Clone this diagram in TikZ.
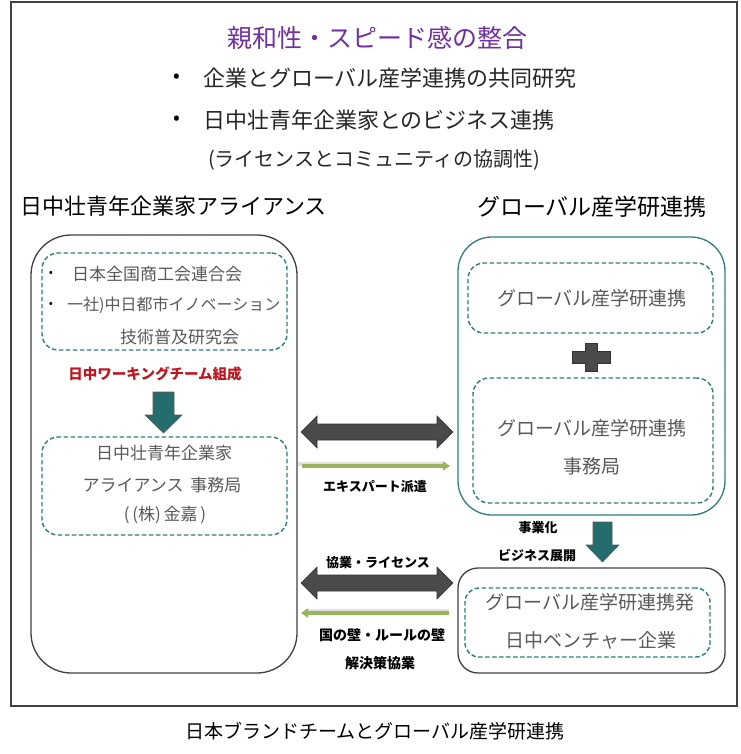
\documentclass[tikz,border=0pt]{standalone}
\usepackage{fontspec}
\setmainfont{Noto Sans CJK JP}
\usetikzlibrary{arrows.meta}
\definecolor{tealdash}{HTML}{2F7C7C}
\definecolor{tealfill}{HTML}{256C6C}
\definecolor{darkarrow}{HTML}{4A4A4A}
\definecolor{greenarrow}{HTML}{98B55E}
\definecolor{titlepurple}{HTML}{7030A0}
\definecolor{labelred}{HTML}{C0141E}
\definecolor{graytext}{HTML}{595959}
\begin{document}
\begin{tikzpicture}[x=1pt,y=-1pt,
  bigbox/.style={draw=#1, line width=1.3pt, inner sep=0pt},
  dashbox/.style={draw=tealdash, line width=1.4pt, dash pattern=on 4.5pt off 2.5pt, rounded corners=16pt, inner sep=0pt},
  txt/.style={inner sep=0pt, anchor=center},
  intxt/.style={txt, text=graytext, font=\fontsize{18}{18}\selectfont},
  smlab/.style={txt, font=\fontsize{13}{13}\selectfont\bfseries},
  blockdark/.style={fill=darkarrow, draw=darkarrow!70!black, line width=0.6pt, line join=miter},
  blockteal/.style={fill=tealfill, draw=graytext, line width=0.6pt, line join=miter},
  thinarrow/.style={draw=greenarrow, line width=3.5pt, -{Triangle[length=7pt,width=9pt]}},
  shadowline/.style={draw=black!12, line width=3.5pt}
]
\useasboundingbox (0,0) rectangle (740,754);
% outer frame
\node[draw=black!75, line width=1.2pt, minimum width=726pt, minimum height=704pt, inner sep=0pt] (frame) at (374,354) {};

% title and bullets
\node[txt, text=titlepurple, font=\fontsize{25}{25}\selectfont] (title) at (377,38) {親和性・スピード感の整合};
\node[txt, font=\fontsize{20}{20}\selectfont] (b1dot) at (177,78) {•};
\node[txt, anchor=west, text=black!85, font=\fontsize{22}{22}\selectfont] (b1) at (203,78) {企業とグローバル産学連携の共同研究};
\node[txt, font=\fontsize{20}{20}\selectfont] (b2dot) at (177,120) {•};
\node[txt, anchor=west, text=black!85, font=\fontsize{22}{22}\selectfont] (b2) at (203,120) {日中壮青年企業家とのビジネス連携};
\node[txt, text=black!85, font=\fontsize{20}{20}\selectfont] (b3) at (374,160) {(ライセンスとコミュニティの協調性)};

% headings
\node[txt, anchor=west, font=\fontsize{22}{22}\selectfont] (hl) at (20,206) {日中壮青年企業家アライアンス};
\node[txt, anchor=east, font=\fontsize{23}{23}\selectfont] (hr) at (707,207) {グローバル産学研連携};

% left big box
\node[bigbox=black!75, rounded corners=40pt, minimum width=266pt, minimum height=438pt] (lbox) at (164,454) {};
\node[dashbox, minimum width=245pt, minimum height=97pt] (ld1) at (164.5,301.5) {};
\node[txt, text=black, font=\fontsize{12}{12}\selectfont] (ld1a) at (51,274) {•};
\node[txt, anchor=west, text=graytext, font=\fontsize{17}{17}\selectfont] (ld1b) at (72,274) {日本全国商工会連合会};
\node[txt, text=black, font=\fontsize{12}{12}\selectfont] (ld1c) at (51,305) {•};
\node[txt, anchor=west, text=graytext, font=\fontsize{16}{16}\selectfont] (ld1d) at (67,305) {一社)中日都市イノベーション};
\node[txt, anchor=west, text=graytext, font=\fontsize{17}{17}\selectfont] (ld1e) at (120,337) {技術普及研究会};
\node[txt, text=labelred, font=\fontsize{14.5}{14.5}\selectfont\bfseries] (red) at (155,374) {日中ワーキングチーム組成};
% teal down arrow (left)
\path[blockteal] (153,392) -- (174,392) -- (174,415) -- (182,415) -- (163.5,433) -- (145,415) -- (153,415) -- cycle;
\node[dashbox, minimum width=245pt, minimum height=98pt] (ld2) at (164.5,486) {};
\node[intxt, font=\fontsize{17}{17}\selectfont] (ld2a) at (164,453) {日中壮青年企業家};
\node[intxt, font=\fontsize{17}{17}\selectfont] (ld2b) at (162,485) {アライアンス\hspace{0.4em}事務局};
\node[intxt, font=\fontsize{17}{17}\selectfont] (ld2c) at (165,515) {(\,(株)\,金嘉\,)};

% right big teal box
\node[bigbox=tealdash, rounded corners=34pt, minimum width=267pt, minimum height=278pt] (rbox) at (591.5,376) {};
\node[dashbox, minimum width=245pt, minimum height=70pt] (rd1) at (590.5,298) {};
\node[intxt, font=\fontsize{19}{19}\selectfont] (rd1t) at (592,298) {グローバル産学研連携};
% plus
\path[blockdark] (585,343) -- (597,343) -- (597,351) -- (610,351) -- (610,363) -- (597,363) -- (597,371) -- (585,371) -- (585,363) -- (572,363) -- (572,351) -- (585,351) -- cycle;
\node[dashbox, minimum width=240pt, minimum height=125pt] (rd2) at (593,440.5) {};
\node[intxt, font=\fontsize{19}{19}\selectfont] (rd2a) at (592,428) {グローバル産学研連携};
\node[intxt, font=\fontsize{19}{19}\selectfont] (rd2b) at (592,466) {事務局};

% bottom right box
\node[bigbox=black!75, rounded corners=20pt, minimum width=267pt, minimum height=105pt] (vbox) at (591.5,620.5) {};
\node[dashbox, rounded corners=14pt, minimum width=245pt, minimum height=69pt] (vd) at (587.5,622.5) {};
\node[intxt, font=\fontsize{19}{19}\selectfont] (vda) at (590,602) {グローバル産学研連携発};
\node[intxt, font=\fontsize{19}{19}\selectfont] (vdb) at (591,640) {日中ベンチャー企業};

% teal down arrow (right)
\path[blockteal] (593,522) -- (612,522) -- (612,545) -- (619,545) -- (602.5,562) -- (586,545) -- (593,545) -- cycle;
\node[smlab] (jig) at (538,528) {事業化};
\node[smlab] (biz) at (537,555) {ビジネス展開};

% double arrow 1
\path[blockdark] (301,432) -- (317,416) -- (317,424) -- (437,424) -- (437,416) -- (453,432) -- (437,448) -- (437,440) -- (317,440) -- (317,448) -- cycle;
% green arrow 1
\coordinate (g1s) at (lbox.east |- 0,466);
\coordinate (g1e) at (450,466);
\draw[shadowline] ([yshift=2pt]g1s) -- ([yshift=2pt,xshift=-4pt]g1e);
\draw[thinarrow] ([xshift=4pt]g1s) -- (g1e);
\node[smlab] (exp) at (375,487) {エキスパート派遣};

% double arrow 2
\node[smlab] (kyo) at (378,563) {協業・ライセンス};
\path[blockdark] (301,583) -- (317,567) -- (317,575) -- (437,575) -- (437,567) -- (453,583) -- (437,599) -- (437,591) -- (317,591) -- (317,599) -- cycle;
% green arrow 2
\coordinate (g2s) at (vbox.west |- 0,613);
\coordinate (g2e) at (301,613);
\draw[shadowline] ([yshift=2pt,xshift=-8pt]g2s) -- ([yshift=2pt,xshift=4pt]g2e);
\draw[thinarrow] ([xshift=-8pt]g2s) -- (g2e);
\node[smlab, font=\fontsize{14}{14}\selectfont\bfseries] (wall) at (382,635) {国の壁・ルールの壁};
\node[smlab, font=\fontsize{14}{14}\selectfont\bfseries] (sol) at (380,663) {解決策協業};

% caption
\node[txt, font=\fontsize{19}{19}\selectfont] (cap) at (375,731) {日本ブランドチームとグローバル産学研連携};
\end{tikzpicture}
\end{document}
